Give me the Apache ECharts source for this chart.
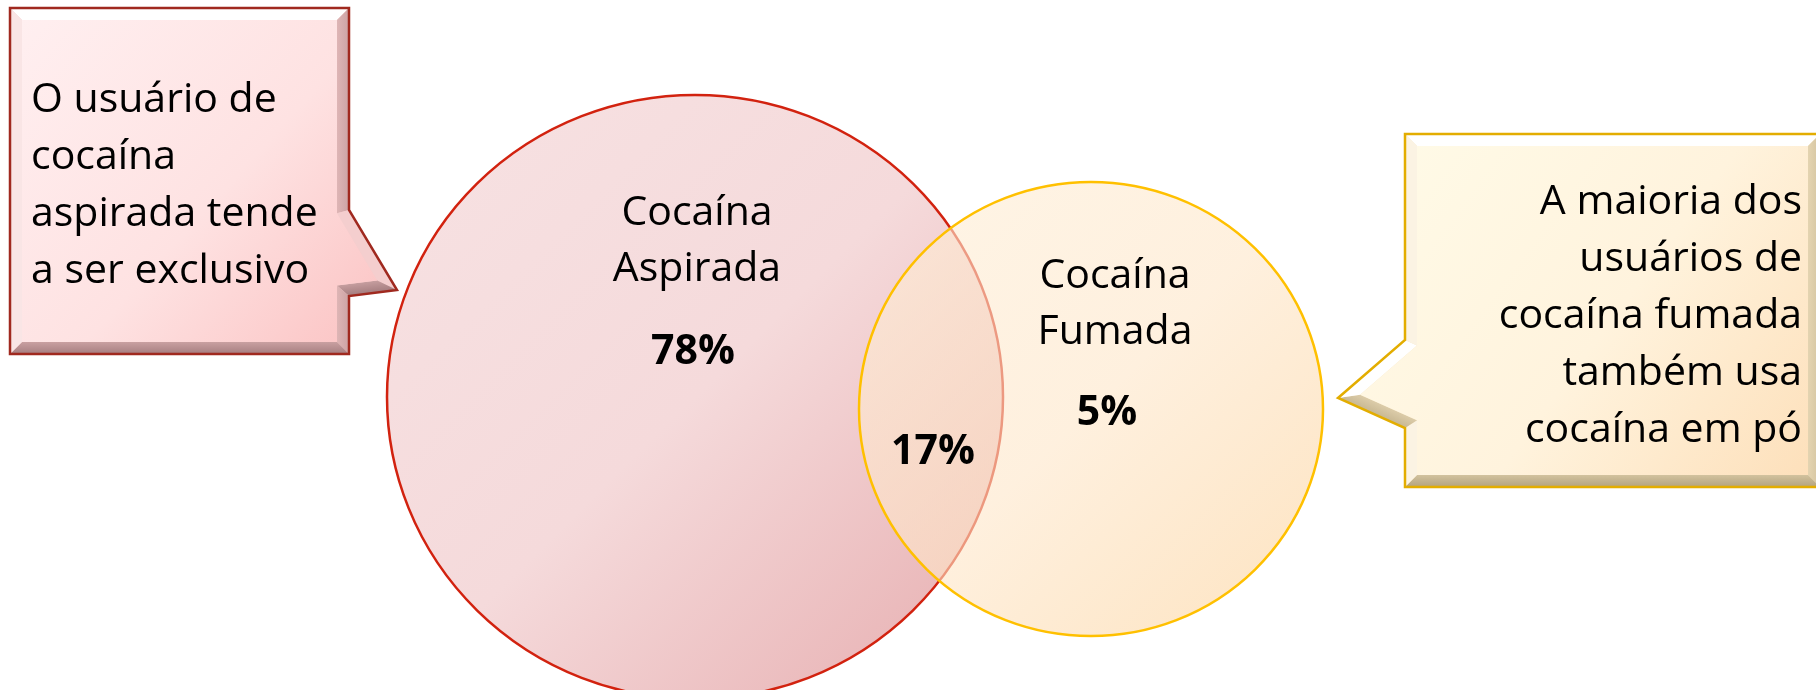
<!DOCTYPE html>
<html>
<head>
<meta charset="utf-8">
<title>Cocaína aspirada x fumada</title>
<script src="https://cdn.jsdelivr.net/npm/echarts@6/dist/echarts.min.js"></script>
<style>
  html, body { margin: 0; padding: 0; background: #fff; }
  #chart { width: 1816px; height: 690px; }
</style>
</head>
<body>
<div id="chart"></div>
<script>
// dados
const SET_NAMES = ["Cocaína\nAspirada", "Cocaína\nFumada"];
const EXCLUSIVE_SHARE = [78, 5]; // % só aspirada, só fumada
const OVERLAP_SHARE = 17; // % usa as duas
const NOTES = [
  "O usuário de\ncocaína\naspirada tende\na ser exclusivo",
  "A maioria dos\nusuários de\ncocaína fumada\ntambém usa\ncocaína em pó",
];

// layout (coordenadas do eixo escondido, 1 unidade = 1px)
const CIRCLE_LAYOUT = [
  [695, 397, 308, 302],
  [1091, 409, 232, 227],
];
const NAME_POS = [
  [697, 241],
  [1115, 304],
];
const VALUE_POS = [
  [693, 352],
  [1107, 413],
  [933, 452],
];
const FONT = "'Open Sans'";
const FONT_SIZE = 41;

const CIRCLE_STYLE = [
  {
    fill: new echarts.graphic.LinearGradient(0, 0, 1, 1, [
      { offset: 0, color: "#f7e2e3" },
      { offset: 0.5, color: "#f5dadb" },
      { offset: 1, color: "#e6acae" },
    ]),
    stroke: "#d2220f",
  },
  {
    fill: new echarts.graphic.LinearGradient(0, 0, 1, 1, [
      { offset: 0, color: "rgba(254,238,214,0.6)" },
      { offset: 0.5, color: "rgba(254,230,200,0.6)" },
      { offset: 1, color: "rgba(252,208,150,0.6)" },
    ]),
    stroke: "#ffc000",
  },
];

function hexToRgb(h) {
  const v = parseInt(h.slice(1), 16);
  return [(v >> 16) & 255, (v >> 8) & 255, v & 255];
}
function mix(a, b, t) {
  const ca = hexToRgb(a), cb = hexToRgb(b);
  const c = ca.map((x, i) => Math.round(x + (cb[i] - x) * t));
  return `rgb(${c[0]},${c[1]},${c[2]})`;
}
function inwardNormal(p, q) {
  const dx = q[0] - p[0], dy = q[1] - p[1];
  const len = Math.hypot(dx, dy);
  return [-dy / len, dx / len];
}
function intersect(a1, a2, b1, b2) {
  const d = (a1[0] - a2[0]) * (b1[1] - b2[1]) - (a1[1] - a2[1]) * (b1[0] - b2[0]);
  if (Math.abs(d) < 1e-9) return a2;
  const t = ((a1[0] - b1[0]) * (b1[1] - b2[1]) - (a1[1] - b1[1]) * (b1[0] - b2[0])) / d;
  return [a1[0] + t * (a2[0] - a1[0]), a1[1] + t * (a2[1] - a1[1])];
}
function insetPolygon(pts, d) {
  const n = pts.length;
  return pts.map((p1, i) => {
    const p0 = pts[(i - 1 + n) % n], p2 = pts[(i + 1) % n];
    const n1 = inwardNormal(p0, p1), n2 = inwardNormal(p1, p2);
    const off = (p, nn) => [p[0] + nn[0] * d, p[1] + nn[1] * d];
    return intersect(off(p0, n1), off(p1, n1), off(p1, n2), off(p2, n2));
  });
}

// caixa de texto com chanfro (bevel), luz vinda de cima/esquerda
function callout(pts, cfg) {
  const inner = insetPolygon(pts, cfg.bevel);
  const L = [-0.45, -0.89];
  const els = [];
  els.push({ type: "polygon", shape: { points: pts }, style: { fill: cfg.base }, z: 1 });
  pts.forEach((p, i) => {
    const q = pts[(i + 1) % pts.length];
    const nIn = inwardNormal(p, q);
    const s = -(nIn[0] * L[0] + nIn[1] * L[1]);
    const color = s >= 0 ? mix(cfg.base, cfg.light, Math.min(1, s * 1.15)) : mix(cfg.base, cfg.dark, Math.min(1, -s * 1.1));
    // leve degrade de fora para dentro no chanfro
    const a = [(p[0] + q[0]) / 2, (p[1] + q[1]) / 2];
    const b = [a[0] + nIn[0] * cfg.bevel, a[1] + nIn[1] * cfg.bevel];
    els.push({
      type: "polygon",
      shape: { points: [p, q, inner[(i + 1) % pts.length], inner[i]] },
      style: {
        fill: new echarts.graphic.LinearGradient(a[0], a[1], b[0], b[1], [
          { offset: 0, color: color },
          { offset: 1, color: s >= 0 ? color : mix(cfg.base, cfg.dark, Math.min(1, -s * 0.6)) },
        ], true),
      },
      z: 2,
    });
  });
  els.push({ type: "polygon", shape: { points: inner }, style: { fill: cfg.fill }, z: 3 });
  els.push({
    type: "polygon",
    shape: { points: pts },
    style: { fill: "none", stroke: cfg.stroke, lineWidth: 2.5, lineJoin: "miter" },
    z: 4,
  });
  return els;
}

function noteText(text, x, y, align) {
  return {
    type: "text",
    x: x,
    y: y,
    z: 5,
    style: {
      text: text,
      font: `${FONT_SIZE}px ${FONT}`,
      fill: "#000",
      lineHeight: 57,
      align: align,
      textAlign: align,
      verticalAlign: "middle",
      textVerticalAlign: "middle",
    },
  };
}

const leftBox = [[10, 8], [349, 8], [349, 210], [397, 290], [349, 296], [349, 354], [10, 354]];
const rightBox = [[1405, 134], [1820, 134], [1820, 487], [1405, 487], [1405, 428], [1338, 398], [1405, 340]];

const graphic = [
  ...callout(leftBox, {
    bevel: 12,
    base: "#f3caca",
    light: "#ffffff",
    dark: "#a47c7e",
    stroke: "#a0291f",
    fill: new echarts.graphic.LinearGradient(0, 0, 1, 1, [
      { offset: 0, color: "#ffeff0" },
      { offset: 0.55, color: "#fee2e2" },
      { offset: 1, color: "#fbc3c3" },
    ]),
  }),
  noteText(NOTES[0], 31, 186, "left"),
  ...callout(rightBox, {
    bevel: 12,
    base: "#f6e6c4",
    light: "#ffffff",
    dark: "#b2a27c",
    stroke: "#e3ad00",
    fill: new echarts.graphic.LinearGradient(0, 0, 1, 1, [
      { offset: 0, color: "#fffbe8" },
      { offset: 0.55, color: "#fff3dd" },
      { offset: 1, color: "#fde0bb" },
    ]),
  }),
  noteText(NOTES[1], 1802, 316, "right"),
];

const labelTexts = [
  ...SET_NAMES,
  ...EXCLUSIVE_SHARE.map((v) => `${v}%`),
  `${OVERLAP_SHARE}%`,
];
const labelPos = [...NAME_POS, ...VALUE_POS];

const option = {
  backgroundColor: "#ffffff",
  animation: false,
  grid: { left: 0, right: 0, top: 0, bottom: 0 },
  xAxis: { type: "value", min: 0, max: 1816, show: false },
  yAxis: { type: "value", min: 0, max: 690, inverse: true, show: false },
  graphic: graphic,
  series: [
    {
      type: "custom",
      name: "conjuntos",
      clip: false,
      data: CIRCLE_LAYOUT,
      renderItem: (params, api) => {
        const c = api.coord([api.value(0), api.value(1)]);
        const s = api.size([api.value(2), api.value(3)]);
        const rx = Math.abs(s[0]), ry = Math.abs(s[1]);
        const st = CIRCLE_STYLE[params.dataIndex];
        return {
          type: "circle",
          x: c[0],
          y: c[1],
          scaleY: ry / rx,
          shape: { cx: 0, cy: 0, r: rx },
          style: { fill: st.fill, stroke: st.stroke, lineWidth: 2.5, strokeNoScale: true },
          z2: params.dataIndex,
        };
      },
    },
    {
      type: "custom",
      name: "rótulos",
      clip: false,
      z: 3,
      data: labelPos,
      renderItem: (params, api) => {
        const c = api.coord([api.value(0), api.value(1)]);
        const isValue = params.dataIndex >= SET_NAMES.length;
        return {
          type: "text",
          x: c[0],
          y: c[1],
          style: {
            text: labelTexts[params.dataIndex],
            font: `${isValue ? "bold " : ""}${FONT_SIZE}px ${FONT}`,
            fill: "#000",
            lineHeight: 56,
            align: "center",
            textAlign: "center",
            verticalAlign: "middle",
            textVerticalAlign: "middle",
          },
        };
      },
    },
  ],
};

const chart = echarts.init(document.getElementById("chart"), null, { renderer: "canvas" });
chart.setOption(option);
</script>
</body>
</html>
